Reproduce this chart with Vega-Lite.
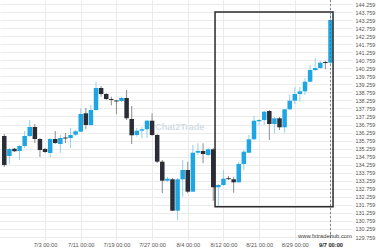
{
  "$schema": "https://vega.github.io/schema/vega-lite/v6.json",
  "width": 352,
  "height": 240,
  "padding": {"left": 0, "top": 0, "right": 28, "bottom": 10},
  "autosize": {"type": "none"},
  "background": "white",
  "config": {
    "view": {"stroke": null},
    "axis": {"labelFont": "Liberation Sans", "ticks": false, "domain": false, "grid": true, "gridColor": "#ebebeb", "gridWidth": 1, "labelOverlap": false, "labelFlush": false, "title": null}
  },
  "datasets": {
    "candles": [
      {"i": -1, "o": 136.045, "h": 136.169, "l": 134.116, "c": 134.240},
      {"i": 0, "o": 134.800, "h": 135.298, "l": 134.303, "c": 135.236},
      {"i": 1, "o": 135.255, "h": 135.298, "l": 135.049, "c": 135.093},
      {"i": 2, "o": 135.112, "h": 135.485, "l": 134.552, "c": 135.423},
      {"i": 3, "o": 135.423, "h": 136.356, "l": 135.298, "c": 136.045},
      {"i": 4, "o": 136.045, "h": 137.041, "l": 135.983, "c": 136.605},
      {"i": 5, "o": 136.605, "h": 136.792, "l": 135.609, "c": 135.858},
      {"i": 6, "o": 135.858, "h": 135.921, "l": 134.738, "c": 135.174},
      {"i": 7, "o": 135.236, "h": 135.298, "l": 134.987, "c": 135.049},
      {"i": 8, "o": 134.987, "h": 135.921, "l": 134.738, "c": 135.858},
      {"i": 9, "o": 135.858, "h": 136.356, "l": 135.547, "c": 135.609},
      {"i": 10, "o": 135.547, "h": 136.107, "l": 134.987, "c": 135.921},
      {"i": 11, "o": 135.952, "h": 136.232, "l": 135.609, "c": 135.890},
      {"i": 12, "o": 135.921, "h": 136.543, "l": 135.298, "c": 136.107},
      {"i": 13, "o": 136.126, "h": 136.418, "l": 136.045, "c": 136.337},
      {"i": 14, "o": 136.313, "h": 137.769, "l": 136.294, "c": 137.414},
      {"i": 15, "o": 137.458, "h": 137.787, "l": 136.462, "c": 136.729},
      {"i": 16, "o": 136.729, "h": 137.974, "l": 136.667, "c": 137.663},
      {"i": 17, "o": 137.663, "h": 139.424, "l": 137.601, "c": 139.032},
      {"i": 18, "o": 139.032, "h": 139.156, "l": 138.491, "c": 138.659},
      {"i": 19, "o": 138.659, "h": 138.721, "l": 138.285, "c": 138.347},
      {"i": 20, "o": 138.347, "h": 138.491, "l": 137.955, "c": 138.285},
      {"i": 21, "o": 138.254, "h": 138.285, "l": 137.395, "c": 138.192},
      {"i": 22, "o": 138.223, "h": 138.472, "l": 138.161, "c": 138.410},
      {"i": 23, "o": 138.410, "h": 138.907, "l": 137.041, "c": 137.146},
      {"i": 24, "o": 137.103, "h": 137.912, "l": 135.547, "c": 136.089},
      {"i": 25, "o": 136.107, "h": 136.543, "l": 136.001, "c": 136.375},
      {"i": 26, "o": 136.375, "h": 136.605, "l": 135.902, "c": 136.462},
      {"i": 27, "o": 136.462, "h": 137.041, "l": 135.921, "c": 136.997},
      {"i": 28, "o": 136.997, "h": 137.458, "l": 136.045, "c": 136.107},
      {"i": 29, "o": 136.107, "h": 136.169, "l": 134.365, "c": 134.446},
      {"i": 30, "o": 134.446, "h": 134.552, "l": 132.498, "c": 133.263},
      {"i": 31, "o": 133.263, "h": 133.494, "l": 133.182, "c": 133.388},
      {"i": 32, "o": 133.351, "h": 133.431, "l": 131.378, "c": 131.397},
      {"i": 33, "o": 131.397, "h": 133.431, "l": 130.818, "c": 133.351},
      {"i": 34, "o": 133.351, "h": 134.552, "l": 132.268, "c": 133.929},
      {"i": 35, "o": 133.929, "h": 134.446, "l": 132.498, "c": 132.579},
      {"i": 36, "o": 132.579, "h": 135.485, "l": 132.560, "c": 135.006},
      {"i": 37, "o": 135.006, "h": 135.591, "l": 134.863, "c": 135.112},
      {"i": 38, "o": 135.112, "h": 135.591, "l": 134.346, "c": 134.925},
      {"i": 39, "o": 134.863, "h": 135.298, "l": 134.800, "c": 135.217},
      {"i": 40, "o": 135.217, "h": 135.298, "l": 132.019, "c": 132.853},
      {"i": 41, "o": 132.853, "h": 133.058, "l": 131.645, "c": 132.996},
      {"i": 42, "o": 132.996, "h": 133.929, "l": 132.934, "c": 133.388},
      {"i": 43, "o": 133.420, "h": 133.556, "l": 133.307, "c": 133.358},
      {"i": 44, "o": 133.351, "h": 133.512, "l": 132.517, "c": 133.164},
      {"i": 45, "o": 133.164, "h": 134.427, "l": 133.120, "c": 134.303},
      {"i": 46, "o": 134.303, "h": 135.174, "l": 133.929, "c": 135.068},
      {"i": 47, "o": 135.006, "h": 136.107, "l": 134.987, "c": 135.840},
      {"i": 48, "o": 135.840, "h": 137.290, "l": 135.796, "c": 136.997},
      {"i": 49, "o": 136.960, "h": 137.103, "l": 136.729, "c": 137.041},
      {"i": 50, "o": 137.041, "h": 137.619, "l": 136.729, "c": 137.557},
      {"i": 51, "o": 137.601, "h": 137.663, "l": 135.796, "c": 136.792},
      {"i": 52, "o": 136.792, "h": 137.227, "l": 136.213, "c": 137.146},
      {"i": 53, "o": 137.146, "h": 137.227, "l": 136.418, "c": 136.586},
      {"i": 54, "o": 136.586, "h": 137.725, "l": 136.250, "c": 137.706},
      {"i": 55, "o": 137.706, "h": 138.596, "l": 137.663, "c": 138.242},
      {"i": 56, "o": 138.242, "h": 139.076, "l": 138.036, "c": 138.659},
      {"i": 57, "o": 138.659, "h": 139.113, "l": 138.179, "c": 138.827},
      {"i": 58, "o": 138.827, "h": 139.636, "l": 138.596, "c": 139.424},
      {"i": 59, "o": 139.424, "h": 140.463, "l": 139.405, "c": 140.152},
      {"i": 60, "o": 140.152, "h": 140.880, "l": 140.090, "c": 140.277},
      {"i": 61, "o": 140.277, "h": 140.712, "l": 140.214, "c": 140.606},
      {"i": 62, "o": 140.650, "h": 140.731, "l": 140.196, "c": 140.588},
      {"i": 63, "o": 140.606, "h": 143.680, "l": 140.525, "c": 143.263}
    ],
    "box": [{"x1": 40.35, "x2": 63.5, "y1": 131.645, "y2": 143.761}],
    "marker": [{"i": 63}]
  },
  "layer": [
    {
      "data": {"name": "candles"},
      "mark": {"type": "rule", "strokeWidth": 1},
      "encoding": {
        "x": {
          "field": "i", "type": "quantitative",
          "scale": {"domain": [-0.858, 66.24], "nice": false, "zero": false},
          "axis": {
            "values": [7, 14, 21, 28, 35, 42, 49, 56, 63],
            "tickCount": 20,
            "labelExpr": "['7/3 00:00','7/11 00:00','7/19 00:00','7/27 00:00','8/4 00:00','8/12 00:00','8/21 00:00','8/29 00:00','9/7 00:00'][round(datum.value/7)-1]",
            "labelFontSize": 5.7,
            "labelColor": {"condition": {"test": "datum.value == 63", "value": "#222222"}, "value": "#555555"},
            "labelFontWeight": {"condition": {"test": "datum.value == 63", "value": "bold"}, "value": "normal"},
            "labelPadding": 1
          }
        },
        "y": {
          "field": "l", "type": "quantitative",
          "scale": {"domain": [129.573, 144.508], "nice": false, "zero": false},
          "axis": {
            "orient": "right",
            "values": [129.759, 130.259, 130.759, 131.259, 131.759, 132.259, 132.759, 133.259, 133.759, 134.259, 134.759, 135.259, 135.759, 136.259, 136.759, 137.259, 137.759, 138.259, 138.759, 139.259, 139.759, 140.259, 140.759, 141.259, 141.759, 142.259, 142.759, 143.259, 143.759, 144.259],
            "tickCount": 40,
            "format": ".3f",
            "labelFontSize": 5.5,
            "labelColor": "#555555",
            "labelPadding": 3
          }
        },
        "y2": {"field": "h"},
        "color": {"condition": {"test": "datum.c >= datum.o", "value": "#92d1ef"}, "value": "#8c8c8c"}
      }
    },
    {
      "data": {"values": [{"i": 33.45, "v": 136.62, "t": "Chat2Trade"}]},
      "mark": {"type": "text", "font": "Liberation Sans", "fontSize": 9, "fontWeight": "bold", "color": "#d3dde5", "align": "center", "baseline": "middle"},
      "encoding": {
        "x": {"field": "i", "type": "quantitative"},
        "y": {"field": "v", "type": "quantitative"},
        "text": {"field": "t"}
      }
    },
    {
      "data": {"name": "candles"},
      "mark": {"type": "bar", "size": 4.5},
      "encoding": {
        "x": {"field": "i", "type": "quantitative"},
        "y": {"field": "o", "type": "quantitative"},
        "y2": {"field": "c"},
        "color": {"condition": {"test": "datum.c >= datum.o", "value": "#1ea6e2"}, "value": "#2a2d36"}
      }
    },
    {
      "data": {"name": "box"},
      "mark": {"type": "rect", "fill": null, "fillOpacity": 0, "stroke": "#2b2b2b", "strokeWidth": 1.5},
      "encoding": {
        "x": {"field": "x1", "type": "quantitative"},
        "x2": {"field": "x2"},
        "y": {"field": "y1", "type": "quantitative"},
        "y2": {"field": "y2"}
      }
    },
    {
      "data": {"name": "marker"},
      "mark": {"type": "rule", "stroke": "#666666", "strokeWidth": 0.8, "strokeDash": [2, 2]},
      "encoding": {
        "x": {"field": "i", "type": "quantitative"}
      }
    },
    {
      "data": {"values": [{"i": 67.2, "v": 129.822, "t": "www.fxtradehub.com"}]},
      "mark": {"type": "text", "font": "Liberation Sans", "fontSize": 5.8, "color": "#444444", "align": "right", "baseline": "middle"},
      "encoding": {
        "x": {"field": "i", "type": "quantitative"},
        "y": {"field": "v", "type": "quantitative"},
        "text": {"field": "t"}
      }
    }
  ]
}
